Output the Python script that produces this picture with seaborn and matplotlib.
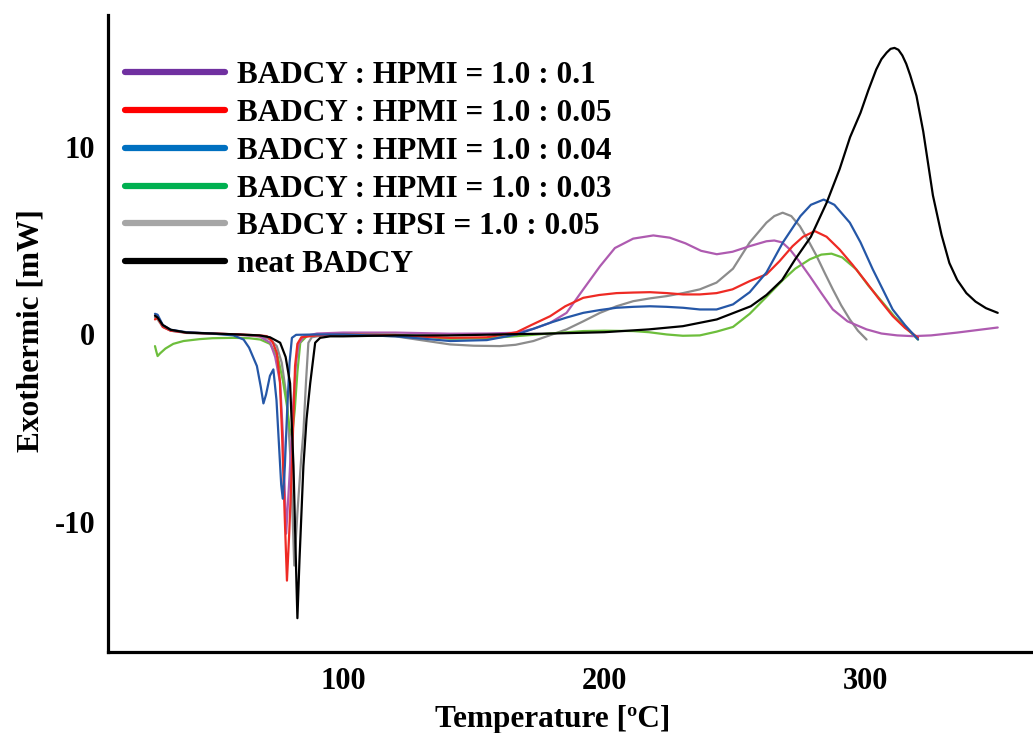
import matplotlib
matplotlib.use("Agg")
import matplotlib.pyplot as plt
import seaborn as sns
import pandas as pd
from matplotlib.lines import Line2D

# ---- data ----
labels = ["BADCY : HPMI = 1.0 : 0.1", "BADCY : HPMI = 1.0 : 0.05", "BADCY : HPMI = 1.0 : 0.04",
          "BADCY : HPMI = 1.0 : 0.03", "BADCY : HPSI = 1.0 : 0.05", "neat BADCY"]

t_purple = [28, 29, 31, 34, 40, 50, 60, 68, 72.1, 74, 75.9, 77, 78.2, 79.5, 81, 82, 83, 85, 90, 100, 120,
            140.9, 155, 166.4, 172.8, 179.2, 185.5, 191.9, 198.3, 204, 211, 218.7, 225, 231, 237, 243, 249,
            255.6, 262, 265, 268, 271, 274.5, 278.6, 283, 287.4, 293, 300.3, 306, 312, 318, 325, 335, 350.5]
v_purple = [1.0, 0.95, 0.45, 0.22, 0.1, 0.05, 0.0, -0.1, -0.44, -1.2, -2.57, -5.5, -10.6, -7.5, -3.46, -1.5,
            -0.5, -0.1, 0.05, 0.1, 0.1, 0.04, 0.05, 0.09, 0.3, 0.62, 1.15, 2.4, 3.63, 4.6, 5.1, 5.27, 5.15,
            4.85, 4.45, 4.27, 4.4, 4.7, 4.96, 5.0, 4.9, 4.52, 3.9, 3.1, 2.2, 1.33, 0.7, 0.27, 0.05, -0.05,
            -0.09, -0.05, 0.1, 0.37]

t_red = [28, 29, 31, 34, 40, 50, 60, 68, 70.8, 73, 74.6, 75.8, 76.6, 77.6, 78.5, 79.4, 80.4, 81.6, 82.5, 84,
         90, 100, 120, 141, 155, 166.4, 172, 179.2, 185, 191.9, 198, 204.6, 211, 217.4, 224, 230.1, 236.5,
         242.9, 249, 255.6, 262, 267, 272, 276, 280.5, 285, 290, 295, 300.3, 305, 310.3, 315, 320]
v_red = [0.8, 0.9, 0.4, 0.2, 0.1, 0.05, 0.0, -0.05, -0.09, -0.4, -0.97, -2.5, -5.2, -9.5, -13.1, -10.5, -7.0,
         -1.68, -0.5, -0.15, -0.05, 0.0, -0.05, -0.18, -0.15, 0.12, 0.5, 0.97, 1.5, 1.95, 2.1, 2.2, 2.23,
         2.25, 2.2, 2.13, 2.13, 2.2, 2.4, 2.84, 3.2, 3.9, 4.7, 5.2, 5.5, 5.2, 4.52, 3.7, 2.76, 1.9, 0.98,
         0.35, -0.17]

t_blue = [28, 29, 31, 34, 40, 50, 58, 61.9, 64, 67, 68.5, 69.5, 70.5, 72, 73.3, 74.5, 75.5, 76.3, 76.9, 77.7,
          78.6, 79.5, 80.4, 82, 90, 100, 120, 141, 155, 166.4, 172.8, 179.2, 185.5, 191.9, 198.3, 204.6, 211,
          217.4, 223.8, 230.1, 236.5, 242.9, 249.2, 255.6, 262, 268.3, 275, 279, 283.9, 288, 293.9, 298,
          302.7, 306.5, 310.3, 315, 320]
v_blue = [1.1, 1.05, 0.5, 0.25, 0.12, 0.05, -0.05, -0.27, -0.7, -1.68, -2.8, -3.67, -3.2, -2.2, -1.86, -3.5,
          -6.0, -8.0, -8.74, -7.0, -4.0, -1.5, -0.18, -0.02, 0.0, 0.0, -0.1, -0.35, -0.3, 0.0, 0.3, 0.62, 0.9,
          1.15, 1.3, 1.42, 1.47, 1.5, 1.47, 1.42, 1.33, 1.33, 1.6, 2.25, 3.3, 4.9, 6.3, 6.9, 7.18, 6.9, 5.95,
          4.9, 3.46, 2.4, 1.33, 0.5, -0.27]

t_green = [28, 28.5, 29, 30, 32, 35, 38.9, 45, 50, 58, 64, 68.3, 72, 75, 77, 78.5, 79.5, 80.4, 81.5, 82.5,
           83.6, 86.1, 90, 100, 120, 141, 155, 166.4, 179, 191.9, 200, 211, 217, 223.8, 230, 236.5, 242.9,
           249.2, 255.6, 262, 268.3, 273, 278.6, 283, 286.9, 291, 296.4, 301, 306.5, 311, 315, 320]
v_green = [-0.62, -0.9, -1.15, -1.0, -0.75, -0.5, -0.35, -0.25, -0.2, -0.18, -0.2, -0.27, -0.5, -1.2, -2.5,
           -3.8, -5.0, -5.5, -4.0, -2.0, -0.44, -0.09, 0.0, 0.05, 0.0, -0.23, -0.2, -0.09, 0.05, 0.18, 0.2,
           0.18, 0.12, 0.0, -0.07, -0.05, 0.15, 0.4, 1.1, 2.0, 2.9, 3.5, 4.0, 4.25, 4.3, 4.1, 3.46, 2.6, 1.7,
           0.95, 0.4, -0.27]

t_gray = [28, 29, 31, 34, 40, 50, 60, 68, 72, 74.6, 76.5, 78.5, 80, 81.3, 82.5, 84, 84.8, 85.8, 86.7, 88, 92,
          100, 120, 140.9, 150, 160, 166, 172.8, 179, 185.5, 191.9, 198.3, 204.6, 211, 217.4, 223.8, 230,
          236.5, 242.9, 249.2, 255.6, 262, 265, 268.2, 271.5, 274.8, 278, 281.1, 284.2, 287.4, 290.6, 293.9,
          297, 300.3]
v_gray = [0.9, 0.8, 0.4, 0.2, 0.08, 0.03, -0.02, -0.1, -0.25, -0.62, -1.5, -3.46, -7.0, -12.3, -9.5, -6.5,
          -5.2, -2.5, -0.44, -0.15, -0.05, 0.0, -0.1, -0.53, -0.6, -0.62, -0.55, -0.35, -0.05, 0.27, 0.7,
          1.15, 1.5, 1.77, 1.92, 2.04, 2.2, 2.4, 2.76, 3.5, 4.9, 5.95, 6.3, 6.48, 6.3, 5.76, 5.0, 4.2, 3.3,
          2.4, 1.55, 0.8, 0.2, -0.27]

t_black = [28, 29, 31, 34, 40, 50, 60, 68, 72, 75.9, 78, 79.7, 81, 82, 82.5, 83.3, 84.8, 86, 87.4, 89.3,
           91.2, 95, 100, 120, 140, 160, 180, 200, 217, 230, 243, 256, 262, 268, 273, 279, 285, 290, 294, 298,
           301, 304, 306, 308, 309.5, 311, 312.5, 314, 315.5, 317, 319.4, 322, 325.7, 329, 332, 335, 338.5,
           342, 346, 350.5]
v_black = [1.0, 0.9, 0.5, 0.25, 0.1, 0.05, 0.0, -0.05, -0.15, -0.44, -1.2, -2.6, -7.0, -12.5, -15.1, -12.0,
           -7.0, -4.5, -2.6, -0.44, -0.18, -0.1, -0.1, -0.05, -0.05, 0.0, 0.05, 0.12, 0.27, 0.44, 0.8, 1.5,
           2.1, 2.9, 4.0, 5.2, 7.0, 8.8, 10.5, 11.8, 13.0, 14.1, 14.65, 15.0, 15.2, 15.25, 15.15, 14.85, 14.4,
           13.8, 12.7, 10.8, 7.4, 5.3, 3.8, 2.9, 2.2, 1.75, 1.4, 1.15]

line_colors = ["#AE5BB0", "#EE2A24", "#2557A7", "#6DBE3C", "#8C8C8C", "#000000"]
legend_colors = ["#7030A0", "#FF0000", "#0070C0", "#00B050", "#A6A6A6", "#000000"]

x_ticks = [100, 200, 300]
y_ticks = [-10, 0, 10]

# ---- plotting ----
sns.set_theme(style="white")
plt.rcParams["font.family"] = ["Liberation Serif", "DejaVu Serif"]
plt.rcParams["font.weight"] = "bold"
plt.rcParams["axes.unicode_minus"] = False
plt.rcParams["text.color"] = "black"
plt.rcParams["axes.labelcolor"] = "black"
plt.rcParams["xtick.color"] = "black"
plt.rcParams["ytick.color"] = "black"

fig = plt.figure(figsize=(10.33, 7.33), dpi=100)
ax = fig.add_axes([0.1045, 0.1105, 0.8955, 0.869])

series = [(t_purple, v_purple), (t_red, v_red), (t_blue, v_blue),
          (t_green, v_green), (t_gray, v_gray), (t_black, v_black)]
order = [4, 3, 0, 1, 2, 5]  # drawing order
for i in order:
    t, v = series[i]
    df = pd.DataFrame({"T": t, "v": v})
    sns.lineplot(data=df, x="T", y="v", color=line_colors[i], lw=1.6, sort=False,
                 estimator=None, ax=ax, legend=False)

ax.set_xlim(10, 364)
ax.set_ylim(-16.9, 17.0)
ax.set_xticks(x_ticks)
ax.set_yticks(y_ticks)
ax.set_xticklabels([str(x) for x in x_ticks])
ax.set_yticklabels([str(y) for y in y_ticks])

for s in ["top", "right"]:
    ax.spines[s].set_visible(False)
for s in ["left", "bottom"]:
    ax.spines[s].set_linewidth(2.3)
    ax.spines[s].set_color("black")

ax.tick_params(axis="both", direction="in", length=6, width=2.2, labelsize=22,
               colors="black", labelcolor="black")
ax.tick_params(axis="x", pad=11)
ax.tick_params(axis="y", pad=9)
for lab in ax.get_xticklabels() + ax.get_yticklabels():
    lab.set_fontweight("bold")

ax.set_xlabel("Temperature [ºC]", fontsize=22.5, fontweight="bold", color="black")
ax.set_ylabel("Exothermic [mW]", fontsize=22.5, fontweight="bold", color="black")
ax.xaxis.set_label_coords(0.481, -0.083)
ax.yaxis.set_label_coords(-0.068, 0.505)

handles = [Line2D([0], [0], color=c, lw=4.5) for c in legend_colors]
leg = ax.legend(handles, labels, loc="upper left", bbox_to_anchor=(0.005, 0.947), frameon=False,
                prop={"size": 22.5, "weight": "bold"}, handlelength=3.2, handletextpad=0.38,
                labelspacing=0.28, borderaxespad=0, labelcolor="black")

fig.savefig("out.png", dpi=100)
